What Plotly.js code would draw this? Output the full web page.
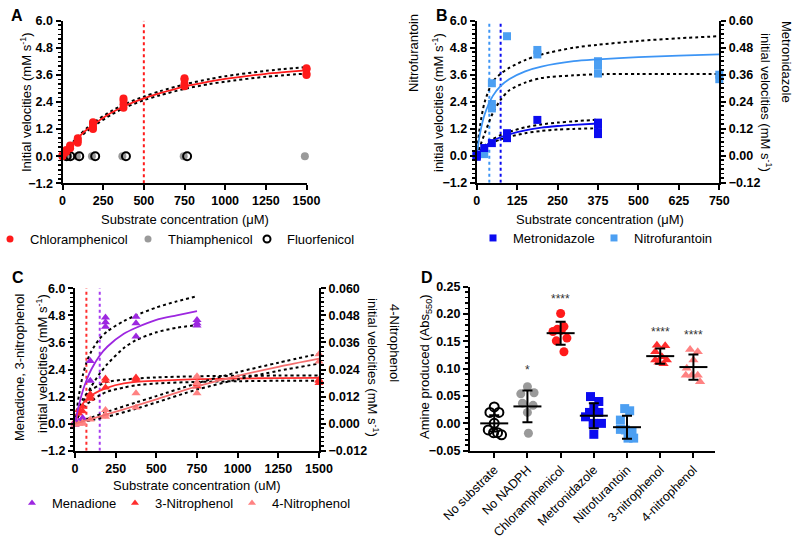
<!DOCTYPE html>
<html><head><meta charset="utf-8">
<script src="https://cdn.plot.ly/plotly-3.0.1.min.js"></script>
<style>html,body{margin:0;padding:0;background:#fff}#chart{width:800px;height:539px}</style>
</head><body><div id="chart"></div>
<script>
// ---------- Panel A data ----------
const chlorX = [0,0,12,23.4,23.4,46.9,46.9,46.9,93.75,93.75,93.75,187.5,187.5,187.5,187.5,375,375,375,375,750,750,750,750,1500,1500,1500,1500];
const chlorY = [0,0.05,0.15,0.2,0.27,0.35,0.42,0.47,0.6,0.7,0.8,1.2,1.3,1.45,1.5,2.15,2.3,2.45,2.55,3.1,3.2,3.4,3.45,3.6,3.65,3.85,3.9];
const thiamX = [0,12,35,88,181,368,745,1490];
const thiamY = [0,0,0,0,0,0,0,0];
const fluorX = [25,48,103,201,390,766];
const fluorY = [0,0,0,0,0,0];
const fitAX = [0,25,50,100,150,200,300,400,500,600,750,900,1000,1250,1500];
const fitA  = [0,0.24,0.46,0.85,1.18,1.45,1.92,2.28,2.56,2.79,3.08,3.3,3.42,3.65,3.8];
const fitAU = [0,0.27,0.5,0.91,1.25,1.53,2.0,2.36,2.64,2.88,3.18,3.41,3.54,3.78,3.95];
const fitAL = [0,0.21,0.42,0.79,1.11,1.37,1.84,2.2,2.48,2.7,2.98,3.19,3.3,3.52,3.66];
const kmA = [500];

// ---------- Panel B data ----------
const nitroX = [0,23.4,46.9,46.9,46.9,93.75,187.5,187.5,375,375,375,750,750];
const nitroY = [0,0.07,3.22,2.3,2.1,5.31,4.5,4.7,4.0,4.2,3.65,3.4,3.6];
const metroX = [0,0,0,23.4,46.9,93.75,93.75,93.75,187.5,375,375,375,375];
const metroY = [-0.005,0,0.005,0.034,0.056,0.078,0.09,0.1,0.159,0.096,0.105,0.14,0.147];
const nfX = [0,10,25,50,75,100,150,200,300,375,500,625,750];
const nfC = [0,0.97,1.85,2.66,3.11,3.4,3.75,3.96,4.2,4.28,4.38,4.45,4.5];
const nfU = [0,1.3,2.4,3.3,3.65,3.9,4.25,4.5,4.8,4.93,5.1,5.22,5.31];
const nfL = [0,0.4,1.0,1.9,2.5,2.9,3.25,3.45,3.57,3.62,3.63,3.63,3.63];
const mtX = [0,25,50,75,100,150,200,250,300,375];
const mtC = [0,0.04,0.066,0.083,0.095,0.113,0.125,0.132,0.137,0.143];
const mtU = [0,0.045,0.073,0.092,0.106,0.126,0.139,0.147,0.153,0.16];
const mtL = [0,0.034,0.058,0.073,0.084,0.1,0.11,0.116,0.119,0.122];
const kmNitro = [39];
const kmMetro = [74];

// ---------- Panel C data ----------
const menX = [0,0,23.4,46.9,46.9,93.75,93.75,187.5,187.5,187.5,375,375,375,750,750,750];
const menY = [-0.05,0.05,0.1,0.2,0.25,2.78,1.9,4.3,4.5,4.7,4.74,4.45,3.86,4.35,4.45,4.6];
const np3X = [0,0,23.4,23.4,46.9,46.9,93.75,93.75,93.75,187.5,187.5,187.5,375,375,375,750,750,750,1500,1500,1500];
const np3Y = [0,0.1,0.45,0.6,0.55,0.75,1.1,1.2,1.3,1.6,1.9,2.0,1.95,2.0,2.05,1.65,1.75,1.8,1.8,1.9,1.95];
const np4X = [0,23.4,46.9,46.9,93.75,187.5,187.5,187.5,375,375,750,750,750,1500,1500];
const np4Y = [-0.0005,0,0,0.0005,0.0018,0.003,0.004,0.006,0.0072,0.0135,0.0135,0.018,0.021,0.0275,0.0308];
const menFX = [0,25,50,75,100,150,200,300,375,500,625,750];
const menC = [0,0.85,1.5,2.0,2.4,3.0,3.42,3.98,4.25,4.6,4.8,4.99];
const menU = [0,1.3,2.2,2.8,3.2,3.75,4.1,4.55,4.8,5.15,5.42,5.65];
const menL = [0,0.4,0.9,1.3,1.65,2.2,2.65,3.35,3.7,4.05,4.25,4.37];
const np3FX = [0,25,50,75,100,150,200,300,375,500,750,1000,1250,1500];
const np3C = [0,0.55,0.9,1.1,1.25,1.45,1.6,1.78,1.85,1.9,1.97,2.0,2.02,2.03];
const np3U = [0,0.7,1.1,1.35,1.5,1.7,1.85,1.95,2.0,2.05,2.1,2.12,2.13,2.13];
const np3L = [0,0.4,0.7,0.88,1.0,1.25,1.42,1.6,1.7,1.78,1.85,1.88,1.9,1.9];
const np4FX = [0,100,200,375,500,750,1000,1250,1500];
const np4C = [0,0.0021,0.0042,0.008,0.0108,0.0165,0.0212,0.0252,0.0288];
const np4U = [0,0.0027,0.0053,0.0094,0.0122,0.0179,0.0228,0.0270,0.0310];
const np4L = [0,0.0015,0.0031,0.0066,0.0094,0.0151,0.0196,0.0234,0.0266];
const km3NP = [70];
const kmMen = [152];

// ---------- Panel D data ----------
const dCats = ['No substrate','No NADPH','Chloramphenicol','Metronidazole','Nitrofurantoin','3-nitrophenol','4-nitrophenol'];
const dNoSubY = [0.030,0.020,0.020,0.0,-0.012,-0.017,-0.017,-0.021];
const dNoSubOff = [0,-0.13,0.14,0,-0.18,-0.02,0.1,0.22];
const dNoNadY = [0.067,0.054,0.056,0.037,0.033,0.02,-0.018];
const dNoNadOff = [0,-0.2,0.2,-0.15,0.17,0.0,0.03];
const dChlorY = [0.201,0.177,0.172,0.168,0.17,0.156,0.151,0.131];
const dChlorOff = [0,0.1,-0.1,-0.23,0.02,0.19,-0.13,0.1];
const dMetroY = [0.049,0.04,0.03,0.02,0.02,0.012,0.0,0.0,-0.02];
const dMetroOff = [-0.1,0.15,0,-0.13,0.15,-0.25,0.23,-0.02,0];
const dNitroY = [0.027,0.023,0.006,-0.011,-0.012,-0.015,-0.027,-0.027];
const dNitroOff = [-0.07,0.08,-0.2,-0.2,-0.05,0.15,0.2,0.03];
const d3NPY = [0.143,0.142,0.131,0.122,0.116,0.116,0.109,0.112];
const d3NPOff = [-0.1,0.15,-0.15,0.05,-0.15,0.2,0.1,-0.05];
const d4NPY = [0.135,0.131,0.116,0.101,0.088,0.088,0.088,0.076];
const d4NPOff = [-0.1,0.13,0,-0.2,-0.05,-0.23,0.13,0.2];
const dMeans = [0.0,0.031,0.165,0.014,-0.007,0.123,0.103];
const dSD = [0.015,0.029,0.021,0.023,0.021,0.014,0.023];
const dStars = ['', '*', '****', '', '', '****', '****'];
const dStarY = [null, 0.098, 0.227, null, null, 0.168, 0.162];

// tick values
const tvVel = [-1.2,0,1.2,2.4,3.6,4.8,6.0];
const tvB2 = [-0.12,0,0.12,0.24,0.36,0.48,0.60];
const tvC2 = [-0.012,0,0.012,0.024,0.036,0.048,0.060];
const tvD = [-0.05,0,0.05,0.10,0.15,0.20,0.25];
const tvX1500 = [0,250,500,750,1000,1250,1500];
const tvX750 = [0,125,250,375,500,625,750];

// ---------- styles ----------
const F = 'Arial, "Liberation Sans", sans-serif';
const C = {chlor:'#ff1a1a', thiam:'#9a9a9a', metro:'#0b0bf0', nitro:'#4c9ff2', nitroLine:'#3d95f5',
           men:'#9d27e0', np3:'#ff2e2e', np4:'#ff8282', np4Line:'#f47070'};
const W = 800, H = 539;
const px = v => v / W, py = v => 1 - v / H;

const traces = [];
function pts(x, y, xa, ya, color, symbol, name, legend, extra) {
  const t = {type:'scatter', mode:'markers', x:x, y:y, xaxis:xa, yaxis:ya, name:name, legend:legend,
    cliponaxis:false, showlegend: !!name,
    marker:{color:color, symbol:symbol, size: name ? 7 : 8, line:{width:0}}};
  return Object.assign(t, extra || {});
}
function line(x, y, xa, ya, color, dash, width) {
  return {type:'scatter', mode:'lines', x:x, y:y, xaxis:xa, yaxis:ya, showlegend:false, hoverinfo:'skip',
    cliponaxis:false, line:{color:color, dash:dash||'solid', width:width||1.8, shape:'spline', smoothing:0.8}};
}
function vline(xv, xa, ya, yr, color) {
  return {type:'scatter', mode:'lines', x:[xv[0], xv[0]], y:yr, xaxis:xa, yaxis:ya, showlegend:false,
    hoverinfo:'skip', line:{color:color, dash:'dot', width:2}};
}

// Panel A
traces.push(vline(kmA, 'x', 'y', [-1.2, 6.0], C.chlor));
traces.push(line(fitAX, fitAU, 'x', 'y', 'black', 'dot', 2));
traces.push(line(fitAX, fitAL, 'x', 'y', 'black', 'dot', 2));
traces.push(pts(thiamX, thiamY, 'x', 'y', C.thiam, 'circle', null, 'legend'));
traces.push(pts(fluorX, fluorY, 'x', 'y', 'black', 'circle-open', null, 'legend', {marker:{color:'black', symbol:'circle-open', size:8, line:{width:2, color:'black'}}}));
traces.push(pts(chlorX, chlorY, 'x', 'y', C.chlor, 'circle', null, 'legend'));
traces.push(line(fitAX, fitA, 'x', 'y', C.chlor, 'solid', 1.8));
traces.push(pts([null], [null], 'x', 'y', C.chlor, 'circle', 'Chloramphenicol', 'legend'));
traces.push(pts([null], [null], 'x', 'y', C.thiam, 'circle', 'Thiamphenicol', 'legend2'));
traces.push(pts([null], [null], 'x', 'y', 'black', 'circle-open', 'Fluorfenicol', 'legend3', {marker:{color:'black', symbol:'circle-open', size:7, line:{width:2, color:'black'}}}));

// Panel B
traces.push(vline(kmNitro, 'x2', 'y2', [-1.2, 6.0], C.nitroLine));
traces.push(vline(kmMetro, 'x2', 'y2', [-1.2, 6.0], C.metro));
traces.push(line(nfX, nfU, 'x2', 'y2', 'black', 'dot', 2));
traces.push(line(nfX, nfL, 'x2', 'y2', 'black', 'dot', 2));
traces.push(line(mtX, mtU, 'x2', 'y3', 'black', 'dot', 2));
traces.push(line(mtX, mtL, 'x2', 'y3', 'black', 'dot', 2));
traces.push(pts(nitroX, nitroY, 'x2', 'y2', C.nitro, 'square', null, 'legend'));
traces.push(line(nfX, nfC, 'x2', 'y2', C.nitroLine, 'solid', 1.8));
traces.push(pts(metroX, metroY, 'x2', 'y3', C.metro, 'square', null, 'legend'));
traces.push(line(mtX, mtC, 'x2', 'y3', C.metro, 'solid', 1.8));
traces.push(pts([null], [null], 'x2', 'y2', C.metro, 'square', 'Metronidazole', 'legend4'));
traces.push(pts([null], [null], 'x2', 'y2', C.nitro, 'square', 'Nitrofurantoin', 'legend5'));

// Panel C
traces.push(vline(km3NP, 'x3', 'y4', [-1.2, 6.0], C.np3));
traces.push(vline(kmMen, 'x3', 'y4', [-1.2, 6.0], '#a63cf0'));
traces.push(line(menFX, menU, 'x3', 'y4', 'black', 'dot', 2));
traces.push(line(menFX, menL, 'x3', 'y4', 'black', 'dot', 2));
traces.push(line(np3FX, np3U, 'x3', 'y4', 'black', 'dot', 2));
traces.push(line(np3FX, np3L, 'x3', 'y4', 'black', 'dot', 2));
traces.push(line(np4FX, np4U, 'x3', 'y5', 'black', 'dot', 2));
traces.push(line(np4FX, np4L, 'x3', 'y5', 'black', 'dot', 2));
traces.push(pts(np4X, np4Y, 'x3', 'y5', C.np4, 'triangle-up', null, 'legend'));
traces.push(line(np4FX, np4C, 'x3', 'y5', C.np4Line, 'solid', 1.8));
traces.push(pts(np3X, np3Y, 'x3', 'y4', C.np3, 'triangle-up', null, 'legend'));
traces.push(line(np3FX, np3C, 'x3', 'y4', C.np3, 'solid', 1.8));
traces.push(pts(menX, menY, 'x3', 'y4', C.men, 'triangle-up', null, 'legend'));
traces.push(line(menFX, menC, 'x3', 'y4', C.men, 'solid', 1.8));
traces.push(pts([null], [null], 'x3', 'y4', C.men, 'triangle-up', 'Menadione', 'legend6'));
traces.push(pts([null], [null], 'x3', 'y4', C.np3, 'triangle-up', '3-Nitrophenol', 'legend7'));
traces.push(pts([null], [null], 'x3', 'y4', C.np4, 'triangle-up', '4-Nitrophenol', 'legend8'));

// Panel D
const groups = [
  [dNoSubY, dNoSubOff, 'black', 'circle-open'],
  [dNoNadY, dNoNadOff, C.thiam, 'circle'],
  [dChlorY, dChlorOff, C.chlor, 'circle'],
  [dMetroY, dMetroOff, C.metro, 'square'],
  [dNitroY, dNitroOff, C.nitro, 'square'],
  [d3NPY, d3NPOff, C.np3, 'triangle-up'],
  [d4NPY, d4NPOff, C.np4, 'triangle-up']
];
groups.forEach((g, i) => {
  const xs = g[1].map(o => i + o);
  const mk = g[3] === 'circle-open'
    ? {color:'black', symbol:'circle-open', size:9, line:{width:2, color:'black'}}
    : {color:g[2], symbol:g[3], size:9, line:{width:0}};
  traces.push({type:'scatter', mode:'markers', x:xs, y:g[0], xaxis:'x4', yaxis:'y6', showlegend:false,
    cliponaxis:false, marker:mk});
});
traces.push({type:'scatter', mode:'markers', x:dCats.map((c, i) => i), y:dMeans, xaxis:'x4', yaxis:'y6',
  showlegend:false, cliponaxis:false,
  marker:{symbol:'line-ew', size:20, line:{width:2, color:'black'}, color:'black'},
  error_y:{type:'data', array:dSD, visible:true, color:'black', thickness:2, width:5}});

// ---------- axes ----------
const TF = {family:F, size:12.5, color:'black', weight:700};
function ax(extra) {
  return Object.assign({showline:true, linecolor:'black', linewidth:2, ticks:'outside', ticklen:5, tickwidth:2,
    tickcolor:'black', showgrid:false, zeroline:false, automargin:false, fixedrange:true,
    tickfont:TF}, extra);
}
function minor(d) { return {tickmode:'linear', tick0:0, dtick:d, ticks:'outside', ticklen:3, tickwidth:1.5, tickcolor:'black', showgrid:false}; }

function leg(markerX, y) {
  return {orientation:'h', x:px(markerX - 20), xanchor:'left', y:py(y), yanchor:'middle',
    font:{family:F, size:13, color:'black'}, bgcolor:'rgba(0,0,0,0)', borderwidth:0,
    itemclick:false, itemdoubleclick:false};
}

const layout = {
  width:W, height:H, margin:{l:0, r:0, t:0, b:0, pad:0, autoexpand:false}, paper_bgcolor:'white', plot_bgcolor:'rgba(0,0,0,0)',
  font:{family:F, color:'black'}, showlegend:true,
  xaxis: ax({domain:[px(62.5), px(306.5)], anchor:'y', range:[0,1500], tickmode:'array', tickvals:tvX1500}),
  yaxis: ax({domain:[py(183.3), py(20.7)], anchor:'x', range:[-1.2,6.0], tickmode:'array', tickvals:tvVel, tickformat:'.1f', minor:minor(0.2)}),
  xaxis2: ax({domain:[px(476.7), px(719.3)], anchor:'y2', range:[0,750], tickmode:'array', tickvals:tvX750}),
  yaxis2: ax({domain:[py(182.7), py(20.7)], anchor:'x2', range:[-1.2,6.0], tickmode:'array', tickvals:tvVel, tickformat:'.1f', minor:minor(0.2)}),
  yaxis3: ax({overlaying:'y2', side:'right', anchor:'x2', range:[-0.12,0.60], tickmode:'array', tickvals:tvB2, tickformat:'.2f', minor:minor(0.02)}),
  xaxis3: ax({domain:[px(75), px(319)], anchor:'y4', range:[0,1500], tickmode:'array', tickvals:tvX1500}),
  yaxis4: ax({domain:[py(450.7), py(288.3)], anchor:'x3', range:[-1.2,6.0], tickmode:'array', tickvals:tvVel, tickformat:'.1f', minor:minor(0.2)}),
  yaxis5: ax({overlaying:'y4', side:'right', anchor:'x3', range:[-0.012,0.060], tickmode:'array', tickvals:tvC2, tickformat:'.3f', minor:minor(0.002)}),
  xaxis4: ax({domain:[px(470), px(715)], anchor:'y6', range:[-0.73,6.65], tickmode:'array', tickvals:dCats.map((c,i)=>i), ticktext:dCats, tickangle:-45,
    tickfont:{family:F, size:12.5, color:'black'}}),
  yaxis6: ax({domain:[py(450.7), py(286.7)], anchor:'x4', range:[-0.05,0.25], tickmode:'array', tickvals:tvD, tickformat:'.2f', minor:minor(0.01)}),
  legend: leg(10, 239),
  legend2: leg(148, 239),
  legend3: leg(267, 239),
  legend4: leg(493, 238),
  legend5: leg(614, 238),
  legend6: leg(32, 503),
  legend7: leg(135, 503),
  legend8: leg(252, 503),
  annotations: []
};

function ann(text, x, y, opts) {
  layout.annotations.push(Object.assign({text:text, xref:'paper', yref:'paper', x:px(x), y:py(y), showarrow:false,
    xanchor:'center', yanchor:'middle', font:{family:F, size:13, color:'black'}}, opts || {}));
}
const vel = 'initial velocities (mM s<sup>-1</sup>)';
const LF = {family:F, size:16, color:'black', weight:700};
ann('A', 17, 15, {font:LF});
ann('B', 442, 15, {font:LF});
ann('C', 18, 277, {font:LF});
ann('D', 427, 277, {font:LF});
// A titles
ann('Initial velocities (mM s<sup>-1</sup>)', 26, 102, {textangle:-90});
ann('Substrate concentration (μM)', 185, 219);
// B titles
ann('Nitrofurantoin', 413, 53, {textangle:-90});
ann(vel, 438, 103, {textangle:-90});
ann('Metronidazole', 787, 62, {textangle:90});
ann(vel, 766, 102, {textangle:90});
ann('Substrate concentration (μM)', 600, 219);
// C titles
ann('Menadione, 3-nitrophenol', 19, 367, {textangle:-90});
ann(vel, 42, 364, {textangle:-90});
ann('4-Nitrophenol', 395, 343, {textangle:90});
ann(vel, 373, 367, {textangle:90});
ann('Substrate concentration (uM)', 197, 485);
// D titles
ann('Amine produced (Abs<sub>550</sub>)', 425, 367, {textangle:-90});
dStars.forEach((s, i) => {
  if (s) layout.annotations.push({text:s, xref:'x4', yref:'y6', x:i, y:dStarY[i], showarrow:false,
    xanchor:'center', yanchor:'middle', font:{family:F, size:12, color:'#333'}});
});

Plotly.newPlot('chart', traces, layout, {staticPlot:true, displayModeBar:false});
</script></body></html>
